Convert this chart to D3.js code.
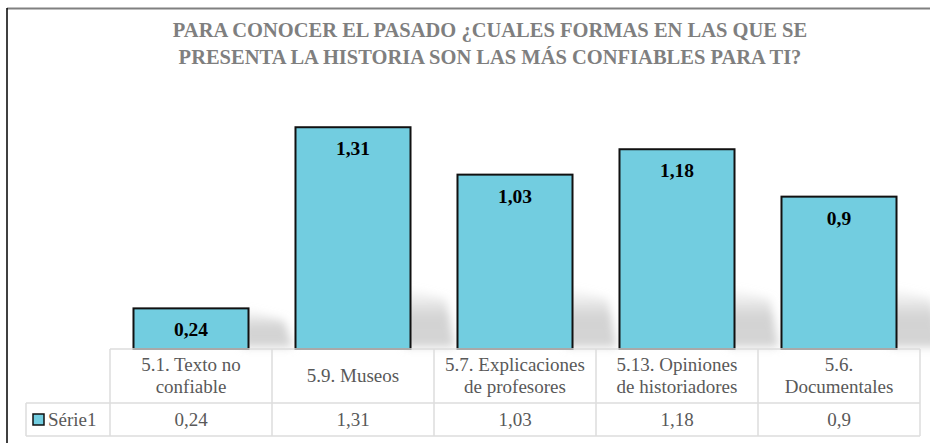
<!DOCTYPE html>
<html>
<head>
<meta charset="utf-8">
<script src="https://cdn.jsdelivr.net/npm/d3@7"></script>
<style>
  body { margin: 0; background: #fff; }
</style>
</head>
<body>
<script>
var categories = ["5.1. Texto no confiable", "5.9. Museos", "5.7. Explicaciones de profesores", "5.13. Opiniones de historiadores", "5.6. Documentales"];
var catLines = [["5.1. Texto no", "confiable"], ["5.9. Museos"], ["5.7. Explicaciones", "de profesores"], ["5.13. Opiniones", "de historiadores"], ["5.6.", "Documentales"]];
var values = [0.24, 1.31, 1.03, 1.18, 0.9];
var seriesName = "Série1";
var titleLines = ["PARA CONOCER EL PASADO ¿CUALES FORMAS EN LAS QUE SE", "PRESENTA LA HISTORIA SON LAS MÁS CONFIABLES PARA TI?"];

var width = 930, height = 443;
var serif = "'Liberation Serif', 'Times New Roman', serif";
var fmt = function (v) { return String(v).replace(".", ","); };

var svg = d3.select("body").append("svg")
  .attr("width", width)
  .attr("height", height)
  .attr("font-family", serif);

// shadow gradient + blur
var defs = svg.append("defs");
var grad = defs.append("linearGradient").attr("id", "shd")
  .attr("x1", 0).attr("y1", 0).attr("x2", 0).attr("y2", 1);
grad.append("stop").attr("offset", "0%").attr("stop-color", "#c8c8c8").attr("stop-opacity", 0);
grad.append("stop").attr("offset", "50%").attr("stop-color", "#c8c8c8").attr("stop-opacity", 0.8);
grad.append("stop").attr("offset", "100%").attr("stop-color", "#d0d0d0").attr("stop-opacity", 0.9);
defs.append("filter").attr("id", "blur").attr("x", "-50%").attr("y", "-50%").attr("width", "200%").attr("height", "200%")
  .append("feGaussianBlur").attr("stdDeviation", 4);

// frame
svg.append("line").attr("x1", 7).attr("x2", width).attr("y1", 8.5).attr("y2", 8.5)
  .attr("stroke", "#808080").attr("stroke-width", 2);
svg.append("line").attr("x1", 7).attr("x2", 7).attr("y1", 8).attr("y2", height)
  .attr("stroke", "#000").attr("stroke-width", 1.5);

// title
svg.append("g").selectAll("text").data(titleLines).enter().append("text")
  .attr("x", 490)
  .attr("y", function (d, i) { return 37 + i * 27; })
  .attr("text-anchor", "middle")
  .attr("fill", "#7f7f7f")
  .attr("font-weight", "bold")
  .attr("font-size", "20.5px")
  .text(function (d) { return d; });

var x = d3.scaleBand().domain(categories).range([110, 920]).paddingInner(0.29).paddingOuter(0.145);
var col = d3.scaleBand().domain(categories).range([110, 920]);
var y = d3.scaleLinear().domain([0, 1.4]).range([349, 112]);

// shadows
svg.append("g").selectAll("path").data(values).enter().append("path")
  .attr("d", function (d, i) {
    var r = x(categories[i]) + x.bandwidth();
    var top = Math.max(y(d), 349 - 62);
    return "M" + (r - 6) + "," + top + "L" + (r + 36) + "," + (top + 12) + "L" + (r + 44) + ",347L" + (r - 6) + ",347Z";
  })
  .attr("fill", "url(#shd)")
  .attr("filter", "url(#blur)");

// bars
svg.append("g").selectAll("rect").data(values).enter().append("rect")
  .attr("x", function (d, i) { return x(categories[i]); })
  .attr("y", function (d) { return y(d); })
  .attr("width", x.bandwidth())
  .attr("height", function (d) { return y(0) - y(d); })
  .attr("fill", "#72cde0")
  .attr("stroke", "#111")
  .attr("stroke-width", 2);

// value labels
svg.append("g").selectAll("text").data(values).enter().append("text")
  .attr("x", function (d, i) { return x(categories[i]) + x.bandwidth() / 2; })
  .attr("y", function (d) { return y(d) + 28; })
  .attr("text-anchor", "middle")
  .attr("font-weight", "bold")
  .attr("font-size", "19.5px")
  .attr("fill", "#000")
  .text(fmt);

// data table
var tbl = svg.append("g").attr("stroke", "#dcdcdc").attr("stroke-width", 1.5);
tbl.append("line").attr("x1", 110).attr("x2", 920).attr("y1", 349).attr("y2", 349);
tbl.append("line").attr("x1", 26).attr("x2", 920).attr("y1", 403).attr("y2", 403);
tbl.append("line").attr("x1", 26).attr("x2", 920).attr("y1", 436).attr("y2", 436);
tbl.append("line").attr("x1", 26).attr("x2", 26).attr("y1", 403).attr("y2", 436);
tbl.selectAll(".v").data(categories.concat(["end"])).enter().append("line")
  .attr("x1", function (d, i) { return i < 5 ? col(d) : 920; })
  .attr("x2", function (d, i) { return i < 5 ? col(d) : 920; })
  .attr("y1", 349).attr("y2", 436);

var txtColor = "#595959";
var catG = svg.append("g").selectAll("g").data(catLines).enter().append("g");
catG.selectAll("text").data(function (d, i) { return d.map(function (t, j) { return { t: t, j: j, n: d.length, i: i }; }); })
  .enter().append("text")
  .attr("x", function (d) { return col(categories[d.i]) + col.bandwidth() / 2; })
  .attr("y", function (d) { return 382 + (d.j - (d.n - 1) / 2) * 22; })
  .attr("text-anchor", "middle")
  .attr("font-size", "19px")
  .attr("fill", txtColor)
  .text(function (d) { return d.t; });

svg.append("g").selectAll("text").data(values).enter().append("text")
  .attr("x", function (d, i) { return col(categories[i]) + col.bandwidth() / 2; })
  .attr("y", 426)
  .attr("text-anchor", "middle")
  .attr("font-size", "19px")
  .attr("fill", txtColor)
  .text(fmt);

svg.append("rect").attr("x", 33).attr("y", 414).attr("width", 11).attr("height", 11)
  .attr("fill", "#72cde0").attr("stroke", "#111").attr("stroke-width", 1.5);
svg.append("text").attr("x", 48).attr("y", 426)
  .attr("font-size", "19px").attr("fill", txtColor).text(seriesName);
</script>
</body>
</html>
